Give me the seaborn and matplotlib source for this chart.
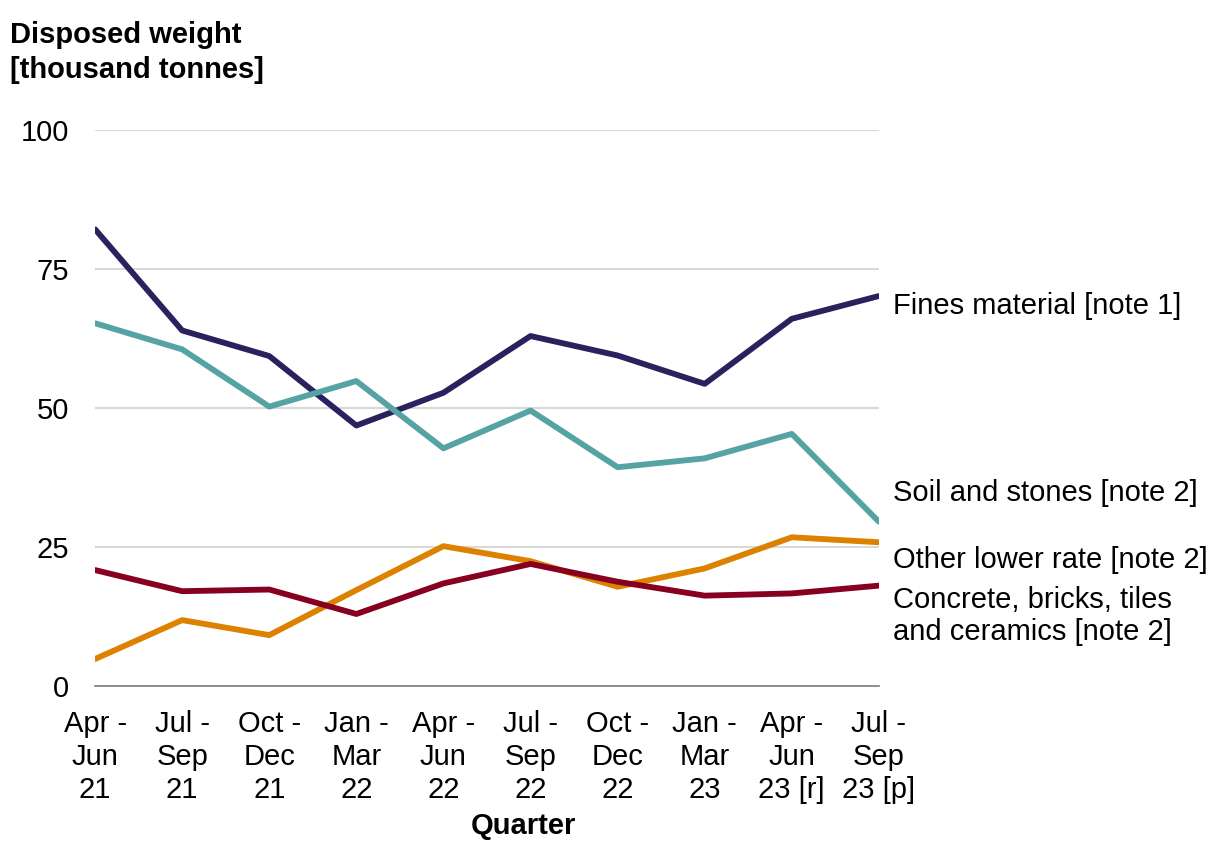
import pandas as pd
import seaborn as sns
import matplotlib.pyplot as plt

# quarters and series (thousand tonnes)
quarters = ['Apr -\nJun\n21', 'Jul -\nSep\n21', 'Oct -\nDec\n21', 'Jan -\nMar\n22',
            'Apr -\nJun\n22', 'Jul -\nSep\n22', 'Oct -\nDec\n22', 'Jan -\nMar\n23',
            'Apr -\nJun\n23 [r]', 'Jul -\nSep\n23 [p]']
fines = [82.2, 64.0, 59.4, 46.9, 52.8, 63.0, 59.5, 54.4, 66.1, 70.2]
soil = [65.3, 60.6, 50.3, 54.9, 42.8, 49.6, 39.4, 41.0, 45.4, 29.6]
other_lower = [4.9, 11.9, 9.2, 17.3, 25.2, 22.5, 17.9, 21.2, 26.8, 25.9]
concrete = [20.9, 17.1, 17.4, 13.0, 18.5, 22.0, 18.8, 16.3, 16.7, 18.1]

series_names = ['Fines material [note 1]', 'Soil and stones [note 2]',
                'Other lower rate [note 2]',
                'Concrete, bricks, tiles\nand ceramics [note 2]']
series_values = [fines, soil, other_lower, concrete]
colours = ['#29225e', '#56a3a3', '#dc8100', '#87001f']
# vertical nudge of end labels (data units)
label_nudge = [-1.8, 5.1, -3.1, -5.4]

rows = []
for name, vals in zip(series_names, series_values):
    for i, v in enumerate(vals):
        rows.append({'pos': i, 'value': v, 'series': name})
df = pd.DataFrame(rows)

sns.set_style('white')
plt.rcParams['font.family'] = ['Liberation Sans', 'DejaVu Sans']
plt.rcParams['text.color'] = 'black'
plt.rcParams['xtick.labelcolor'] = 'black'
plt.rcParams['ytick.labelcolor'] = 'black'

fs = 21

fig = plt.figure(figsize=(12.19, 8.41), dpi=100)
ax = fig.add_axes([0.078, 0.184, 0.643, 0.661])

sns.lineplot(data=df, x='pos', y='value', hue='series', hue_order=series_names,
             palette=colours, linewidth=4.2, legend=False, ax=ax,
             solid_capstyle='round')

ax.set_xlim(0, len(quarters) - 1)
ax.set_ylim(0, 100)
ax.set_yticks([0, 25, 50, 75, 100])
ax.yaxis.grid(True, color='#d9d9d9', linewidth=1.5)
ax.set_axisbelow(True)
ax.set_xticks(range(len(quarters)))
ax.set_xticklabels(quarters, fontsize=fs, linespacing=1.23)
ax.tick_params(axis='y', length=0, labelsize=fs, pad=19)
ax.tick_params(axis='x', length=7, width=1.2, color='#7f7f7f', pad=10)
for side in ['top', 'right', 'left']:
    ax.spines[side].set_visible(False)
ax.spines['bottom'].set_color('#7f7f7f')
ax.spines['bottom'].set_linewidth(1.2)

ax.set_ylabel('')
ax.set_xlabel('Quarter', fontsize=fs, fontweight='bold', color='black')
ax.xaxis.set_label_coords(0.547, -0.226)

fig.text(0.008, 0.975, 'Disposed weight\n[thousand tonnes]', fontsize=fs,
         fontweight='bold', ha='left', va='top', linespacing=1.3)

for name, vals, dy in zip(series_names, series_values, label_nudge):
    ax.annotate(name, xy=(len(quarters) - 1, vals[-1] + dy),
                xytext=(10, 0), textcoords='offset points',
                fontsize=fs, va='center', ha='left', linespacing=1.18,
                annotation_clip=False)

fig.savefig('out.png', dpi=100)
